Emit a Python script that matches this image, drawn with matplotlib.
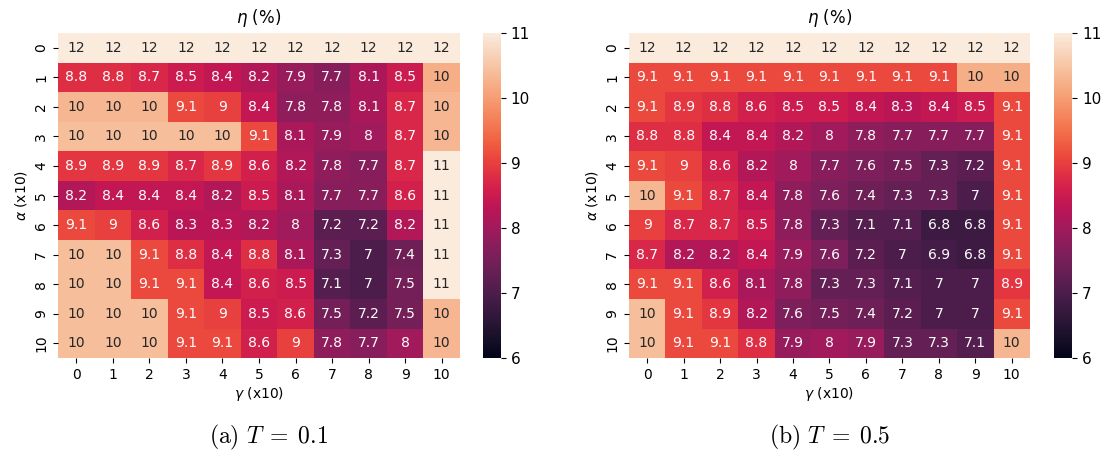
import matplotlib
matplotlib.use("Agg")
import matplotlib.pyplot as plt
import numpy as np
import seaborn as sns

alpha_labels = [str(i) for i in range(11)]
gamma_labels = [str(i) for i in range(11)]

# eta (%) for T = 0.1, rows = alpha, cols = gamma
eta_t01 = [
    [12, 12, 12, 12, 12, 12, 12, 12, 12, 12, 12],
    [8.8, 8.8, 8.7, 8.5, 8.4, 8.2, 7.9, 7.7, 8.1, 8.5, 10.2],
    [10.3, 10.3, 10.3, 9.1, 9.0, 8.4, 7.8, 7.8, 8.1, 8.7, 10.3],
    [10.4, 10.4, 10.4, 10.4, 10.4, 9.1, 8.1, 7.9, 8.0, 8.7, 10.3],
    [8.9, 8.9, 8.9, 8.7, 8.9, 8.6, 8.2, 7.8, 7.7, 8.7, 11.2],
    [8.2, 8.4, 8.4, 8.4, 8.2, 8.5, 8.1, 7.7, 7.7, 8.6, 11.2],
    [9.1, 9.0, 8.6, 8.3, 8.3, 8.2, 8.0, 7.2, 7.2, 8.2, 11.2],
    [10.4, 10.4, 9.1, 8.8, 8.4, 8.8, 8.1, 7.3, 7.0, 7.4, 11.2],
    [10.4, 10.4, 9.1, 9.1, 8.4, 8.6, 8.5, 7.1, 7.0, 7.5, 11.2],
    [10.4, 10.4, 10.4, 9.1, 9.0, 8.5, 8.6, 7.5, 7.2, 7.5, 10.3],
    [10.4, 10.4, 10.4, 9.1, 9.1, 8.6, 9.0, 7.8, 7.7, 8.0, 10.3],
]

# eta (%) for T = 0.5
eta_t05 = [
    [12, 12, 12, 12, 12, 12, 12, 12, 12, 12, 12],
    [9.1, 9.1, 9.1, 9.1, 9.1, 9.1, 9.1, 9.1, 9.1, 10.2, 10.2],
    [9.1, 8.9, 8.8, 8.6, 8.5, 8.5, 8.4, 8.3, 8.4, 8.5, 9.1],
    [8.8, 8.8, 8.4, 8.4, 8.2, 8.0, 7.8, 7.7, 7.7, 7.7, 9.1],
    [9.1, 9.0, 8.6, 8.2, 8.0, 7.7, 7.6, 7.5, 7.3, 7.2, 9.1],
    [10.3, 9.1, 8.7, 8.4, 7.8, 7.6, 7.4, 7.3, 7.3, 7.0, 9.1],
    [9.0, 8.7, 8.7, 8.5, 7.8, 7.3, 7.1, 7.1, 6.8, 6.8, 9.1],
    [8.7, 8.2, 8.2, 8.4, 7.9, 7.6, 7.2, 7.0, 6.9, 6.8, 9.1],
    [9.1, 9.1, 8.6, 8.1, 7.8, 7.3, 7.3, 7.1, 7.0, 7.0, 8.9],
    [10.4, 9.1, 8.9, 8.2, 7.6, 7.5, 7.4, 7.2, 7.0, 7.0, 9.1],
    [10.4, 9.1, 9.1, 8.8, 7.9, 8.0, 7.9, 7.3, 7.3, 7.1, 10.3],
]

captions = [r"$\mathrm{(a)}\ T\;=\;0.1$", r"$\mathrm{(b)}\ T\;=\;0.5$"]
caption_x = [0.243, 0.751]

fig = plt.figure(figsize=(11.05, 4.62), dpi=100)

panels = [
    (eta_t01, [0.0525, 0.225, 0.3638, 0.7035], [0.437, 0.225, 0.0163, 0.7035]),
    (eta_t05, [0.5692, 0.225, 0.3629, 0.7035], [0.954, 0.225, 0.0163, 0.7035]),
]

for (data, ax_pos, cb_pos), cap, cx in zip(panels, captions, caption_x):
    ax = fig.add_axes(ax_pos)
    cax = fig.add_axes(cb_pos)
    sns.heatmap(np.array(data), ax=ax, cbar_ax=cax, cmap="rocket",
                vmin=6, vmax=11, annot=True,
                annot_kws={"size": 10},
                xticklabels=gamma_labels, yticklabels=alpha_labels)
    ax.set_title(r"$\eta$ (%)", fontsize=12, pad=7)
    ax.set_xlabel(r"$\gamma$ (x10)", fontsize=10, labelpad=2)
    ax.set_ylabel(r"$\alpha$ (x10)", fontsize=10, labelpad=4)
    ax.tick_params(labelsize=10)
    cax.tick_params(labelsize=11)
    cax.set_yticks([6, 7, 8, 9, 10, 11])
    fig.text(cx, 0.054, cap, ha="center", va="center", fontsize=17,
             math_fontfamily="cm")

fig.savefig("out.png", dpi=100)
